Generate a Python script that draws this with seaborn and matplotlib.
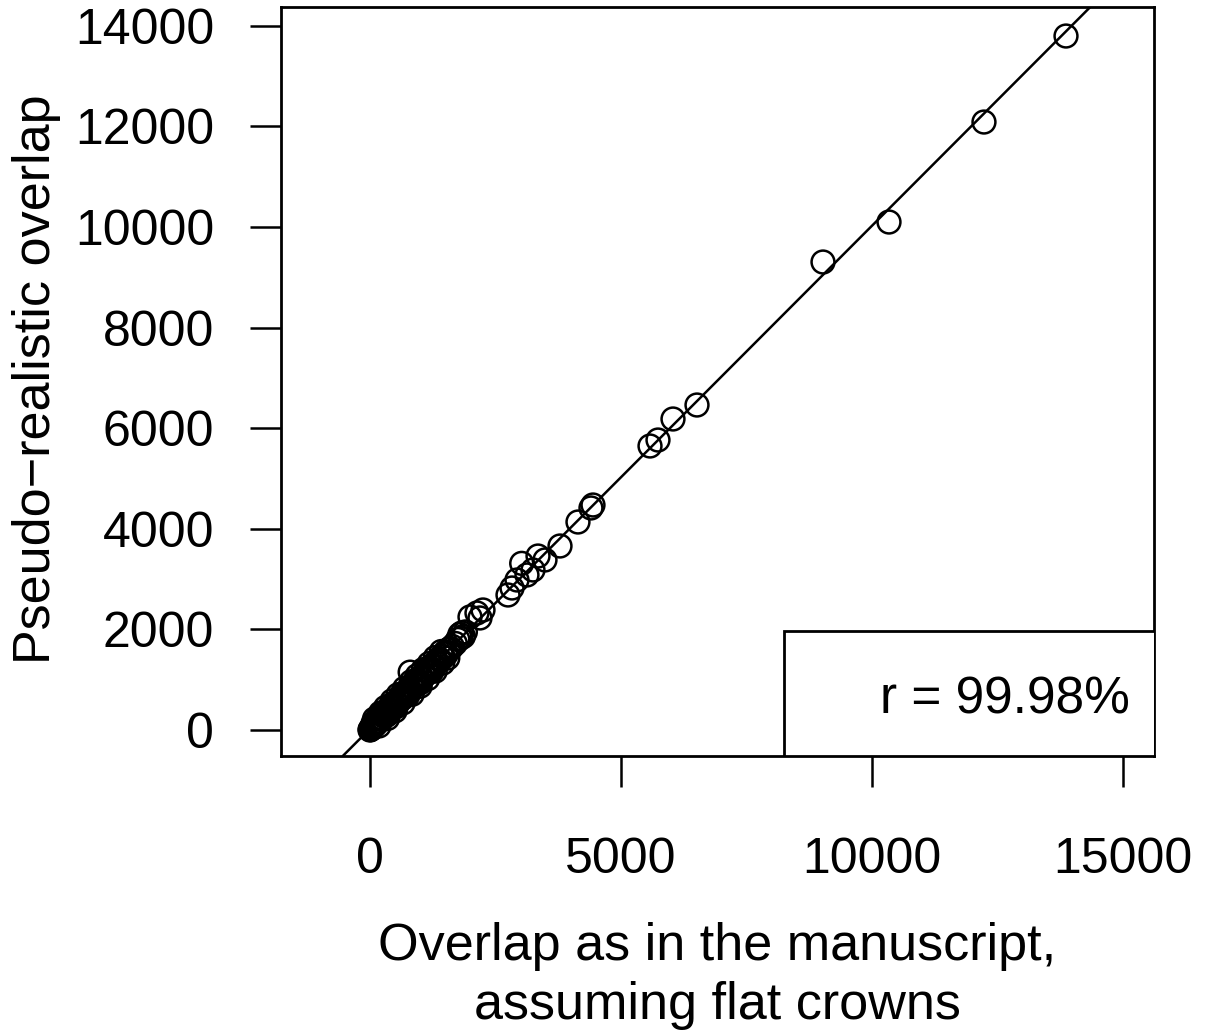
import matplotlib
matplotlib.use('Agg')
import matplotlib.pyplot as plt
import seaborn as sns
import pandas as pd
from matplotlib.patches import Rectangle

# overlap values
flat_overlap = [
    0, 5, 12, 20, 30, 40, 55, 70, 85, 100, 120, 140, 160, 180, 200, 220,
    245, 260, 280, 300, 320, 340, 360, 380, 400, 420, 445, 470, 490, 510,
    530, 555, 580, 600, 625, 650, 675, 700, 720, 750, 775, 800, 830, 860,
    890, 920, 950, 980, 1010, 1040, 1070, 1100, 1130, 1160, 1190, 1220,
    1250, 1280, 1310, 1340, 1370, 1400, 1430, 1460, 1500, 1520, 1560, 1600,
    1640, 1700, 1750, 1800, 1830, 1790, 1860, 1900,
    60, 150, 250, 330, 420, 520, 640, 760, 880, 990, 1120, 1240, 800,
    90, 210, 310, 440, 560, 690, 820, 940, 1060, 1180, 1300, 1420,
    180, 350, 500, 660, 840, 1000, 1150, 1300, 1450, 1550,
    1992, 2131, 2191, 2251, 2749, 2829, 2928, 3127, 3247, 3022, 3347, 3486,
    3785, 4143, 4402, 4442, 5578, 5737, 6036, 6514, 9024, 10339, 12231, 13865,
]
realistic_overlap = [
    0, 10, 8, 25, 28, 45, 60, 65, 95, 110, 115, 150, 170, 175, 215, 240,
    235, 280, 300, 290, 345, 330, 380, 400, 390, 450, 430, 500, 480, 540,
    520, 590, 570, 620, 640, 630, 700, 690, 760, 740, 800, 790, 860, 850,
    930, 910, 990, 970, 1050, 1030, 1110, 1090, 1160, 1150, 1230, 1210,
    1290, 1270, 1340, 1330, 1410, 1390, 1470, 1450, 1550, 1510, 1600, 1620,
    1660, 1720, 1800, 1820, 1930, 1900, 1860, 1950,
    130, 230, 330, 290, 500, 460, 720, 700, 950, 930, 1200, 1180, 1150,
    220, 340, 450, 580, 700, 830, 960, 1080, 1200, 1320, 1440, 1560,
    80, 230, 380, 540, 710, 870, 1020, 1170, 1330, 1430,
    2247, 2326, 2227, 2386, 2684, 2823, 2982, 3082, 3181, 3313, 3459, 3380,
    3658, 4135, 4414, 4473, 5646, 5765, 6183, 6461, 9304, 10099, 12087, 13797,
]
line_intercept = 25
line_slope = 1.0
r_label = "r = 99.98%"

df = pd.DataFrame({'flat': flat_overlap, 'realistic': realistic_overlap})

sns.set_style('white')
plt.rcParams['font.family'] = ['Liberation Sans', 'DejaVu Sans']
plt.rcParams['text.color'] = 'black'

fig = plt.figure(figsize=(12.06, 10.35), dpi=100)
ax = fig.add_axes([281 / 1206, 1 - 756 / 1035, 873 / 1206, 749 / 1035])

sns.scatterplot(data=df, x='flat', y='realistic', ax=ax, s=270,
                facecolors='none', edgecolor='black', linewidth=1.8,
                zorder=3)
ax.axline((0, line_intercept), slope=line_slope, color='black', lw=1.8,
          zorder=2)

ax.set_xlim(-1773, 15618)
ax.set_ylim(-517, 14374)
ax.set_xticks([0, 5000, 10000, 15000])
ax.set_yticks(range(0, 14001, 2000))
ax.tick_params(axis='both', which='major', direction='out', length=22,
               width=1.8, color='black', labelsize=36, labelcolor='black')
ax.tick_params(axis='x', pad=36, bottom=True)
ax.tick_params(axis='y', pad=26, left=True)
for sp in ax.spines.values():
    sp.set_visible(True)
    sp.set_color('black')
    sp.set_linewidth(2.0)
ax.set_xlabel('')
ax.set_ylabel('')

# legend-like box at bottom right
ax.add_patch(Rectangle((0.576, 0.0), 0.5, 0.1669, transform=ax.transAxes,
                       facecolor='white', edgecolor='black', lw=2.0,
                       zorder=4, clip_on=True))
ax.text(0.9725, 0.0748, r_label, transform=ax.transAxes, ha='right',
        va='center', fontsize=37, color='black', zorder=5)

fig.text(717.5 / 1206, 1 - 922 / 1035,
         'Overlap as in the manuscript,\nassuming flat crowns',
         ha='center', va='top', fontsize=37.5, linespacing=1.25,
         color='black')
fig.text(37 / 1206, 1 - 379 / 1035, 'Pseudo\u2212realistic overlap',
         rotation=90, ha='center', va='center', fontsize=37.5,
         color='black')

fig.savefig('out.png', dpi=100)
